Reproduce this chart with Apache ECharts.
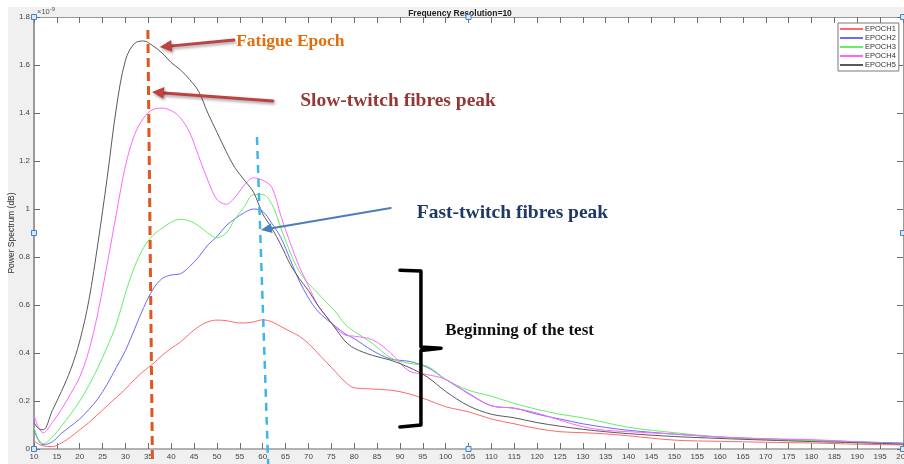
<!DOCTYPE html>
<html>
<head>
<meta charset="utf-8">
<script src="https://cdn.jsdelivr.net/npm/echarts@6/dist/echarts.min.js"></script>
<style>
  html, body { margin: 0; padding: 0; background: #fff; }
  #chart { width: 904px; height: 464px; }
</style>
</head>
<body>
<div id="chart"></div>
<script>
// Frequency bins (Hz) shared by all epochs
const freq = [10, 11, 12, 14, 16, 18, 20, 22, 24, 26, 28, 30, 32, 34, 36, 38, 40, 42, 44, 46, 48,
  50, 52, 54, 56, 58, 60, 62, 64, 66, 68, 70, 72, 74, 76, 78, 80, 84, 88, 92, 96, 100,
  105, 110, 115, 120, 125, 130, 135, 140, 150, 160, 170, 180, 190, 200];

// Power spectrum per epoch (units of 1e-9)
const epoch1 = [0.035, 0.02, 0.013, 0.01, 0.025, 0.05, 0.08, 0.11, 0.145, 0.18, 0.215, 0.25, 0.29, 0.325, 0.355, 0.39, 0.42,
  0.445, 0.48, 0.51, 0.53, 0.537, 0.535, 0.527, 0.525, 0.53, 0.538, 0.53, 0.51, 0.49, 0.47, 0.44, 0.40, 0.36, 0.32, 0.28,
  0.255, 0.25, 0.245, 0.23, 0.205, 0.176, 0.155, 0.125, 0.105, 0.085, 0.072, 0.068, 0.063, 0.055, 0.037, 0.032, 0.028,
  0.025, 0.02, 0.017];
const epoch2 = [0.08, 0.035, 0.018, 0.03, 0.065, 0.095, 0.125, 0.165, 0.21, 0.27, 0.34, 0.41, 0.50, 0.59, 0.665, 0.71, 0.725,
  0.73, 0.76, 0.80, 0.85, 0.885, 0.93, 0.96, 0.985, 1.00, 0.99, 0.94, 0.88, 0.79, 0.70, 0.63, 0.575, 0.54, 0.51, 0.48,
  0.46, 0.41, 0.375, 0.365, 0.34, 0.29, 0.232, 0.18, 0.17, 0.145, 0.125, 0.105, 0.09, 0.078, 0.062, 0.05, 0.042,
  0.036, 0.03, 0.025];
const epoch3 = [0.09, 0.04, 0.022, 0.05, 0.095, 0.145, 0.20, 0.265, 0.34, 0.425, 0.52, 0.65, 0.76, 0.84, 0.89, 0.92, 0.945,
  0.957, 0.95, 0.93, 0.90, 0.88, 0.90, 0.96, 1.01, 1.06, 1.06, 1.02, 0.92, 0.82, 0.74, 0.69, 0.65, 0.61, 0.57, 0.52,
  0.49, 0.44, 0.38, 0.357, 0.345, 0.29, 0.245, 0.22, 0.19, 0.165, 0.145, 0.13, 0.11, 0.09, 0.068, 0.05, 0.04,
  0.035, 0.03, 0.02];
const epoch4 = [0.14, 0.09, 0.068, 0.11, 0.165, 0.23, 0.30, 0.41, 0.57, 0.77, 0.98, 1.18, 1.31, 1.38, 1.415, 1.42, 1.41,
  1.38, 1.32, 1.22, 1.12, 1.04, 1.02, 1.05, 1.10, 1.13, 1.12, 1.09, 0.97, 0.86, 0.76, 0.68, 0.60, 0.55, 0.505, 0.475,
  0.47, 0.455, 0.40, 0.325, 0.31, 0.29, 0.23, 0.18, 0.17, 0.15, 0.12, 0.093, 0.078, 0.072, 0.062, 0.05, 0.043,
  0.039, 0.03, 0.02];
const epoch5 = [0.11, 0.085, 0.08, 0.16, 0.24, 0.33, 0.45, 0.62, 0.86, 1.13, 1.42, 1.62, 1.69, 1.70, 1.68, 1.65, 1.61,
  1.58, 1.54, 1.49, 1.40, 1.32, 1.24, 1.17, 1.12, 1.07, 0.98, 0.92, 0.85, 0.77, 0.71, 0.66, 0.60, 0.55, 0.50, 0.45,
  0.42, 0.39, 0.37, 0.34, 0.30, 0.24, 0.18, 0.145, 0.13, 0.11, 0.095, 0.082, 0.072, 0.064, 0.052, 0.044, 0.037,
  0.031, 0.026, 0.02];

const seriesNames = ['EPOCH1', 'EPOCH2', 'EPOCH3', 'EPOCH4', 'EPOCH5'];
const seriesValues = [epoch1, epoch2, epoch3, epoch4, epoch5];
const seriesColors = ['#ff6a6a', '#6a6aff', '#66ee66', '#ff66ff', '#5a5a5a'];

const titleText = 'Frequency Resolution=10';
const yAxisTitle = 'Power Spectrum (dB)';

// Axis ranges and tick spacing
const xMin = 10, xMax = 200, xStep = 5;
const yMin = 0, yMax = 1.8, yStep = 0.2;

const chart = echarts.init(document.getElementById('chart'), null, { renderer: 'canvas' });

const axisGrey = '#9a9a9a';
const tickGrey = '#6e6e6e';
const labelFont = { fontFamily: 'Liberation Sans, Arial, sans-serif', fontSize: 8, color: '#444' };

const series = seriesNames.map((name, i) => ({
  name: name,
  type: 'line',
  data: freq.map((f, k) => [f, seriesValues[i][k]]),
  smooth: 0.35,
  showSymbol: false,
  symbol: 'none',
  lineStyle: { color: seriesColors[i], width: 1 },
  itemStyle: { color: seriesColors[i] },
  z: 3 + i
}));

chart.setOption({
  animation: false,
  backgroundColor: '#ffffff',
  title: {
    text: titleText,
    left: 455, top: 4,
    textAlign: 'center',
    textStyle: { fontFamily: 'Liberation Sans, Arial, sans-serif', fontSize: 8.5, fontWeight: 'bold', color: '#222' }
  },
  legend: {
    data: seriesNames,
    orient: 'vertical',
    left: 838, top: 23,
    itemWidth: 23, itemHeight: 2,
    itemGap: 1,
    icon: 'rect',
    padding: [2, 3, 2, 2],
    backgroundColor: '#ffffff',
    borderColor: '#7a7a7a', borderWidth: 1,
    textStyle: { fontFamily: 'Liberation Sans, Arial, sans-serif', fontSize: 7.5, color: '#333', lineHeight: 8, padding: [0, 0, 0, -3] }
  },
  grid: {
    left: 34, right: 1, top: 17, bottom: 15,
    outerBoundsMode: 'none',
    containLabel: false,
    show: true, backgroundColor: '#ffffff', borderWidth: 0
  },
  xAxis: [{
    type: 'value', min: xMin, max: xMax, interval: xStep,
    axisLine: { show: true, onZero: false, lineStyle: { color: axisGrey, width: 1.5 } },
    axisTick: { show: true, inside: true, length: 6, lineStyle: { color: tickGrey } },
    axisLabel: Object.assign({ margin: 4 }, labelFont),
    splitLine: { show: false }
  }, {
    type: 'value', min: xMin, max: xMax, interval: xStep, position: 'top',
    axisLine: { show: true, onZero: false, lineStyle: { color: axisGrey, width: 1 } },
    axisTick: { show: true, inside: true, length: 6, lineStyle: { color: tickGrey } },
    axisLabel: { show: false },
    splitLine: { show: false }
  }],
  yAxis: [{
    type: 'value', min: yMin, max: yMax, interval: yStep,
    axisLine: { show: true, onZero: false, lineStyle: { color: axisGrey, width: 2 } },
    axisTick: { show: true, inside: true, length: 6, lineStyle: { color: tickGrey } },
    axisLabel: Object.assign({ margin: 4, formatter: v => String(+v.toFixed(1)) }, labelFont),
    splitLine: { show: false }
  }, {
    type: 'value', min: yMin, max: yMax, interval: yStep, position: 'right',
    axisLine: { show: true, onZero: false, lineStyle: { color: axisGrey, width: 1 } },
    axisTick: { show: true, inside: true, length: 6, lineStyle: { color: tickGrey } },
    axisLabel: { show: false },
    splitLine: { show: false }
  }],
  series: series
});

// ---- Annotation overlay, placed in data space ----
const toPx = (p) => chart.convertToPixel({ xAxisIndex: 0, yAxisIndex: 0 }, p);

function arrow(tailData, headData, color, width, headLen, headHalf, shadow) {
  const t = toPx(tailData), h = toPx(headData);
  const dx = h[0] - t[0], dy = h[1] - t[1];
  const len = Math.hypot(dx, dy);
  const ux = dx / len, uy = dy / len;
  const bx = h[0] - ux * headLen, by = h[1] - uy * headLen;
  const nx = -uy, ny = ux;
  const sh = shadow ? { shadowBlur: 3, shadowColor: 'rgba(0,0,0,0.35)', shadowOffsetX: 1, shadowOffsetY: 2 } : {};
  return [{
    type: 'line', z: 50, silent: true,
    shape: { x1: t[0], y1: t[1], x2: bx, y2: by },
    style: Object.assign({ stroke: color, lineWidth: width, lineCap: 'round' }, sh)
  }, {
    type: 'polygon', z: 51, silent: true,
    shape: { points: [[h[0], h[1]], [bx + nx * headHalf, by + ny * headHalf], [bx - nx * headHalf, by - ny * headHalf]] },
    style: Object.assign({ fill: color }, sh)
  }];
}

function dashed(fromData, toData, color, width, dash) {
  const a = toPx(fromData), b = toPx(toData);
  return {
    type: 'line', z: 40, silent: true,
    shape: { x1: a[0], y1: a[1], x2: b[0], y2: b[1] },
    style: { stroke: color, lineWidth: width, lineDash: dash }
  };
}

function label(atData, text, color, size) {
  const p = toPx(atData);
  return {
    type: 'text', z: 60, silent: true, x: p[0], y: p[1],
    style: {
      text: text, fill: color, verticalAlign: 'middle', align: 'left',
      font: 'bold ' + size + 'px "Liberation Serif", "Times New Roman", serif'
    }
  };
}

function handle(atData) {
  const p = toPx(atData);
  return {
    type: 'rect', z: 70, silent: true,
    shape: { x: p[0] - 2.5, y: p[1] - 2.5, width: 5, height: 5 },
    style: { fill: '#d6e8f7', stroke: '#3c86c8', lineWidth: 1 }
  };
}

// bracket beside the early-test region
const bracePts = [[90.0, 0.745], [94.6, 0.742], [94.6, 0.425], [99.0, 0.42], [94.6, 0.41], [94.6, 0.10], [90.0, 0.092]];

const yMid = toPx([xMin, (yMin + yMax) / 2]);

const overlay = [
  // figure background around the axes
  { type: 'rect', z: -10, silent: true, shape: { x: 8, y: 7, width: 896, height: 457 }, style: { fill: '#f0f0f0' } },
  { type: 'rect', z: -9, silent: true, shape: (function () {
      const a = toPx([xMin, yMax]), b = toPx([xMax, yMin]);
      return { x: a[0], y: a[1], width: b[0] - a[0], height: b[1] - a[1] };
    })(), style: { fill: '#ffffff' } },
  // y axis title
  {
    type: 'text', z: 60, silent: true, x: yMid[0] - 22, y: yMid[1], rotation: Math.PI / 2,
    style: {
      text: yAxisTitle, fill: '#333', align: 'center', verticalAlign: 'middle',
      font: '8.5px "Liberation Sans", Arial, sans-serif'
    }
  },
  // exponent marker on the y axis
  {
    type: 'text', z: 60, silent: true, x: 37, y: 6,
    style: {
      text: '{a|×10}{b|-9}',
      rich: {
        a: { fontSize: 7.5, fill: '#555', fontFamily: 'Liberation Sans, Arial, sans-serif', verticalAlign: 'bottom' },
        b: { fontSize: 6, fill: '#555', fontFamily: 'Liberation Sans, Arial, sans-serif', padding: [0, 0, 4, 0] }
      }
    }
  },
  dashed([34.9, 1.746], [35.9, -0.0625], '#e0561c', 3, [9, 5]),
  dashed([58.75, 1.30], [61.2, -0.0625], '#3fb6ea', 2.5, [8, 6]),
  ...arrow([53.7, 1.704], [37.5, 1.675], '#bf4240', 3, 12, 6, true),
  ...arrow([62.25, 1.45], [35.8, 1.4875], '#bf4240', 3, 12, 6, true),
  ...arrow([88.0, 1.004], [59.6, 0.9125], '#4a7ebb', 2, 11, 5, false),
  label([54.2, 1.696], 'Fatigue Epoch', '#e46c0a', 17.5),
  label([68.2, 1.452], 'Slow-twitch fibres peak', '#953735', 19.5),
  label([93.7, 0.985], 'Fast-twitch fibres peak', '#1f3864', 19.5),
  label([99.9, 0.492], 'Beginning of the test', '#111111', 17),
  {
    type: 'polyline', z: 55, silent: true,
    shape: { points: bracePts.map(toPx) },
    style: { stroke: '#000', lineWidth: 3.5, fill: null, lineJoin: 'round', lineCap: 'round' }
  },
  handle([xMin, yMin]), handle([xMin, (yMin + yMax) / 2]), handle([xMin, yMax]),
  handle([105, yMin]), handle([105, yMax]),
  handle([xMax, yMin]), handle([xMax, (yMin + yMax) / 2]), handle([xMax, yMax])
];

chart.setOption({ graphic: { elements: overlay } });
</script>
</body>
</html>
